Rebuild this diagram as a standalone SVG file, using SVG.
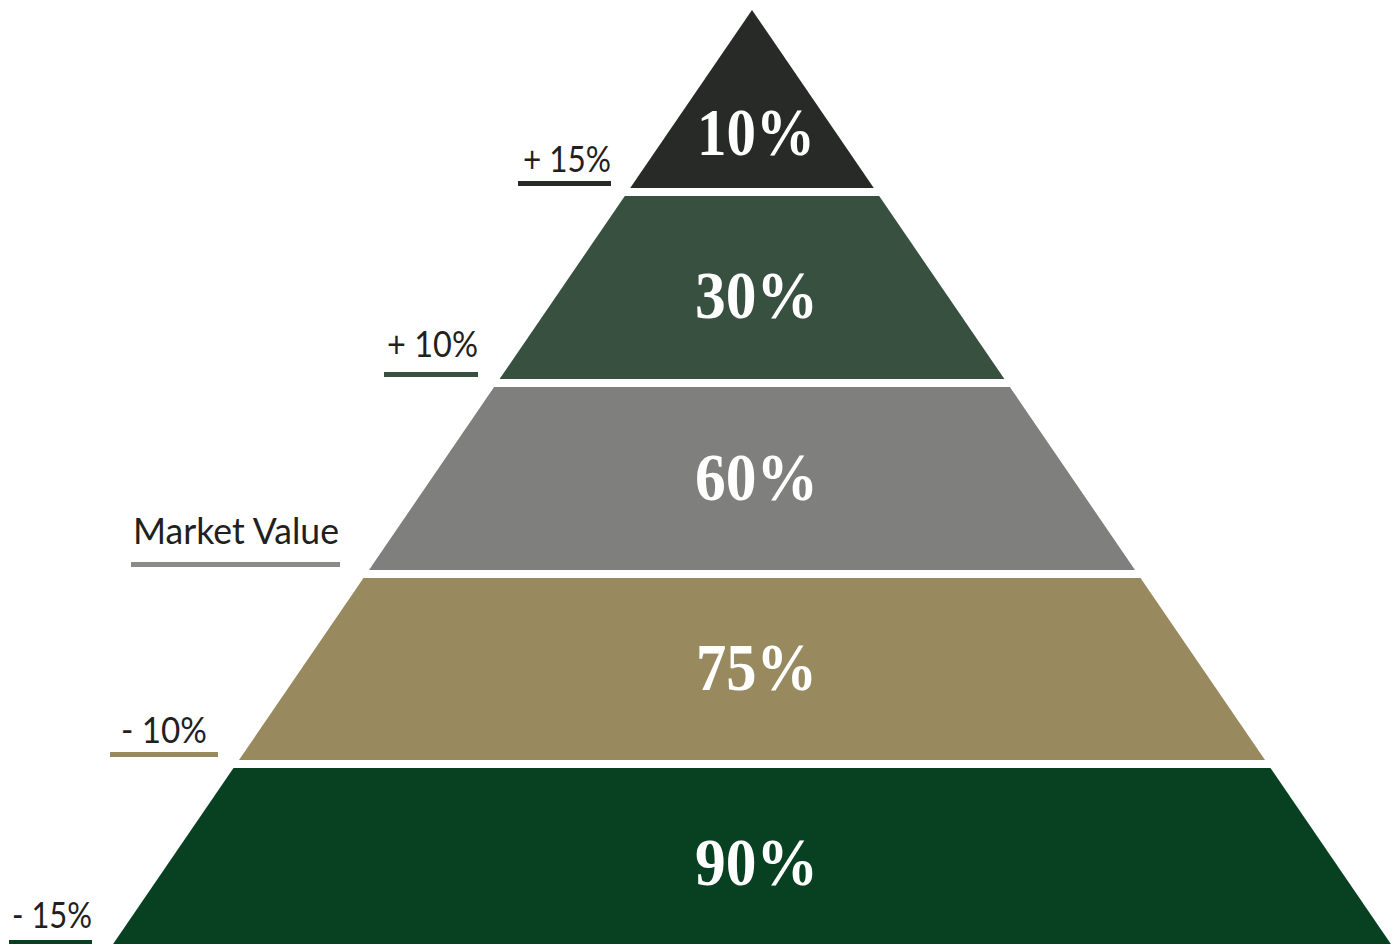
<svg xmlns="http://www.w3.org/2000/svg" width="1397" height="944" viewBox="0 0 1397 944">
<style>
.pct{font-family:"Liberation Serif","DejaVu Serif",serif;font-size:68px;font-weight:bold;fill:#ffffff;text-anchor:middle}
.lbl{font-family:"Lato","Liberation Sans",sans-serif;font-size:36px;fill:#231f20;text-anchor:middle}
</style>
<rect width="1397" height="944" fill="#ffffff"/>
<g id="band-10">
<polygon points="752,10 873.8,188 630.2,188" fill="#272a27"/>
<text class="pct" x="756" y="155" textLength="118" lengthAdjust="spacingAndGlyphs">10%</text>
</g>
<g id="band-30">
<polygon points="624.8,196 879.2,196 1004.4,379 499.6,379" fill="#37503f"/>
<text class="pct" x="756.5" y="318" textLength="123" lengthAdjust="spacingAndGlyphs">30%</text>
</g>
<g id="band-60">
<polygon points="494.1,387 1009.9,387 1135,570 369,570" fill="#7f807e"/>
<text class="pct" x="756.5" y="500" textLength="123" lengthAdjust="spacingAndGlyphs">60%</text>
</g>
<g id="band-75">
<polygon points="363.5,578 1140.5,578 1265,760 239,760" fill="#98895e"/>
<text class="pct" x="756.5" y="690" textLength="121" lengthAdjust="spacingAndGlyphs">75%</text>
</g>
<g id="band-90">
<polygon points="233.5,768 1270.5,768 1390.9,944 113.1,944" fill="#074122"/>
<text class="pct" x="756.5" y="885" textLength="123" lengthAdjust="spacingAndGlyphs">90%</text>
</g>
<g id="label-plus15">
<text class="lbl" x="567" y="172" textLength="88" lengthAdjust="spacingAndGlyphs">+ 15%</text>
<rect x="518" y="181" width="93" height="5" fill="#272a27"/>
</g>
<g id="label-plus10">
<text class="lbl" x="432.5" y="357" textLength="91" lengthAdjust="spacingAndGlyphs">+ 10%</text>
<rect x="384" y="372" width="94" height="5" fill="#37503f"/>
</g>
<g id="label-market">
<text class="lbl" x="236" y="544" textLength="206" lengthAdjust="spacingAndGlyphs">Market Value</text>
<rect x="131" y="562" width="209" height="5" fill="#8a8a89"/>
</g>
<g id="label-minus10">
<text class="lbl" x="164" y="743" textLength="86" lengthAdjust="spacingAndGlyphs">- 10%</text>
<rect x="110" y="752" width="108" height="5" fill="#98895e"/>
</g>
<g id="label-minus15">
<text class="lbl" x="52" y="928" textLength="80" lengthAdjust="spacingAndGlyphs">- 15%</text>
<rect x="9" y="940" width="83" height="5" fill="#074122"/>
</g>
<g id="connectors"></g>
</svg>
